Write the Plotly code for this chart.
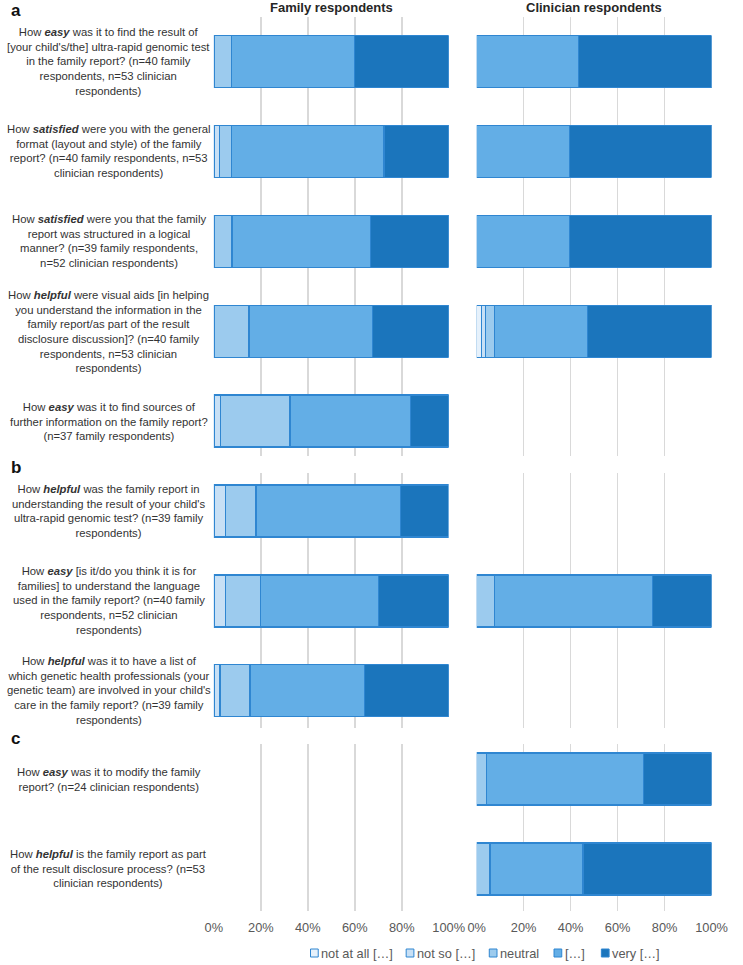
import plotly.graph_objects as go

W, H = 743, 965

levels = ["not at all […]", "not so […]", "neutral", "[…]", "very […]"]
colors = ["#e6f1fb", "#c8e0f5", "#9ccbee", "#63aee6", "#1b75bc"]
edge_color = "#2f86d1"

q_labels = [
    "How <b><i>easy</i></b> was it to find the result of<br>[your child's/the] ultra-rapid genomic test<br>in the family report? (n=40 family<br>respondents, n=53 clinician<br>respondents)",
    "How <b><i>satisfied</i></b> were you with the general<br>format (layout and style) of the family<br>report? (n=40 family respondents, n=53<br>clinician respondents)",
    "How <b><i>satisfied</i></b> were you that the family<br>report was structured in a logical<br>manner? (n=39 family respondents,<br>n=52 clinician respondents)",
    "How <b><i>helpful</i></b> were visual aids [in helping<br>you understand the information in the<br>family report/as part of the result<br>disclosure discussion]? (n=40 family<br>respondents, n=53 clinician<br>respondents)",
    "How <b><i>easy</i></b> was it to find sources of<br>further information on the family report?<br>(n=37 family respondents)",
    "How <b><i>helpful</i></b> was the family report in<br>understanding the result of your child's<br>ultra-rapid genomic test? (n=39 family<br>respondents)",
    "How <b><i>easy</i></b> [is it/do you think it is for<br>families] to understand the language<br>used in the family report? (n=40 family<br>respondents, n=52 clinician<br>respondents)",
    "How <b><i>helpful</i></b> was it to have a list of<br>which genetic health professionals (your<br>genetic team) are involved in your child's<br>care in the family report? (n=39 family<br>respondents)",
    "How <b><i>easy</i></b> was it to modify the family<br>report? (n=24 clinician respondents)",
    "How <b><i>helpful</i></b> is the family report as part<br>of the result disclosure process? (n=53<br>clinician respondents)",
]
q_ids = ["Q%d" % (i + 1) for i in range(10)]
sections = [["Q1", "Q2", "Q3", "Q4", "Q5"], ["Q6", "Q7", "Q8"], ["Q9", "Q10"]]
section_letters = ["a", "b", "c"]

# percentages per level: not at all, not so, neutral, [...], very
family = {
    "Q1": [None, None, 7.5, 52.5, 40.0],
    "Q2": [None, 2.5, 5.0, 65.0, 27.5],
    "Q3": [None, None, 7.7, 59.0, 33.3],
    "Q4": [None, None, 15.0, 52.5, 32.5],
    "Q5": [None, 2.7, 29.7, 51.4, 16.2],
    "Q6": [None, 5.1, 12.8, 61.5, 20.5],
    "Q7": [None, 5.0, 15.0, 50.0, 30.0],
    "Q8": [None, 2.6, 12.8, 48.7, 35.9],
    "Q9": [None, None, None, None, None],
    "Q10": [None, None, None, None, None],
}
clinician = {
    "Q1": [None, None, None, 43.4, 56.6],
    "Q2": [None, None, None, 39.6, 60.4],
    "Q3": [None, None, None, 39.4, 60.6],
    "Q4": [1.9, 1.9, 3.8, 39.6, 52.8],
    "Q5": [None, None, None, None, None],
    "Q6": [None, None, None, None, None],
    "Q7": [None, None, 7.7, 67.3, 25.0],
    "Q8": [None, None, None, None, None],
    "Q9": [None, None, 4.2, 66.7, 29.2],
    "Q10": [None, None, 5.7, 39.6, 54.7],
}
panel_titles = ["Family respondents", "Clinician respondents"]
x_ticks = [0, 20, 40, 60, 80, 100]
x_ticktext = ["0%", "20%", "40%", "60%", "80%", "100%"]

# ---- layout geometry (pixels) ----
x_dom_px = [(212, 455), (484, 727)]
sec_px = [(17, 456), (473, 728), (744, 911)]   # gridline extents
sec_first_center = [61.5, 511.0, 779.0]
pitch = 89.9
bar_h = 52.0
label_cx = 103
legend_y = 953
legend_marker_x = [312, 411, 497, 564, 613]
legend_marker_size = 8

fig = go.Figure()
layout = dict(
    width=W, height=H, margin=dict(l=0, r=0, t=0, b=0),
    plot_bgcolor="white", paper_bgcolor="white",
    barmode="stack", bargap=0,
    font=dict(family="Liberation Sans, Arial, sans-serif", size=13, color="#333333"),
    showlegend=False,
)
annotations = []
shapes = []

for s, qs in enumerate(sections):
    top, bot = sec_px[s]
    c0 = sec_first_center[s]
    r_top = (top - c0) / pitch
    r_bot = (bot - c0) / pitch
    for p in range(2):
        k = s * 2 + p + 1
        xa = "x" if k == 1 else "x%d" % k
        ya = "y" if k == 1 else "y%d" % k
        data = family if p == 0 else clinician
        for li, lev in enumerate(levels):
            fig.add_trace(go.Bar(
                y=qs, x=[data[q][li] for q in qs], orientation="h",
                name=lev, legendgroup=lev, showlegend=False,
                marker=dict(color=colors[li], line=dict(color=edge_color, width=1.3)),
                width=bar_h / pitch,
                xaxis=xa, yaxis=ya, hoverinfo="skip",
            ))
        xd = x_dom_px[p]
        layout["xaxis" if k == 1 else "xaxis%d" % k] = dict(
            domain=[xd[0] / W, xd[1] / W], anchor=ya, range=[0, 100],
            tickvals=x_ticks, ticktext=x_ticktext, showticklabels=(s == 2),
            showgrid=True, gridcolor="#d9d9d9", gridwidth=1.6, zeroline=False,
            showline=False, ticks="", ticklabelstandoff=7,
            tickfont=dict(size=12.8, color="#595959"),
            fixedrange=True,
        )
        layout["yaxis" if k == 1 else "yaxis%d" % k] = dict(
            domain=[1 - bot / H, 1 - top / H], anchor=xa, type="category",
            categoryorder="array", categoryarray=qs,
            range=[r_bot, r_top], showticklabels=False, showgrid=False,
            zeroline=False, showline=False, ticks="", fixedrange=True,
        )
    # question labels
    for q in qs:
        idx = q_ids.index(q)
        annotations.append(dict(
            text=q_labels[idx], x=label_cx / W, xref="paper",
            y=q, yref="y" if s == 0 else "y%d" % (s * 2 + 1),
            xanchor="center", yanchor="middle", align="center", showarrow=False,
            font=dict(size=11.3, color="#333333"),
        ))
    annotations.append(dict(
        text="<b>%s</b>" % section_letters[s], x=0, xref="paper", y=1 - (top - 6) / H, yref="paper",
        xanchor="left", yanchor="middle", showarrow=False,
        font=dict(size=17, color="#111111"),
    ))

for p in range(2):
    xd = x_dom_px[p]
    annotations.append(dict(
        text="<b>%s</b>" % panel_titles[p], x=(xd[0] + xd[1]) / 2 / W, xref="paper",
        y=1 - 7 / H, yref="paper", xanchor="center", yanchor="middle", showarrow=False,
        font=dict(size=13, color="#262626"),
    ))

# custom legend (compact, as in the reference)
for li, lev in enumerate(levels):
    mx = legend_marker_x[li]
    shapes.append(dict(
        type="rect", xref="paper", yref="paper",
        x0=mx / W, x1=(mx + legend_marker_size) / W,
        y0=1 - (legend_y + legend_marker_size / 2) / H, y1=1 - (legend_y - legend_marker_size / 2) / H,
        fillcolor=colors[li], line=dict(color=edge_color, width=1),
    ))
    annotations.append(dict(
        text=lev, x=(mx + legend_marker_size + 1) / W, xref="paper",
        y=1 - legend_y / H, yref="paper", xanchor="left", yanchor="middle",
        showarrow=False, font=dict(size=12.8, color="#595959"),
    ))

layout["annotations"] = annotations
layout["shapes"] = shapes
fig.update_layout(**layout)
fig.write_html(
    "out.html",
    config={"displayModeBar": False, "staticPlot": True},
    post_script="document.body.style.margin='0px';",
)
